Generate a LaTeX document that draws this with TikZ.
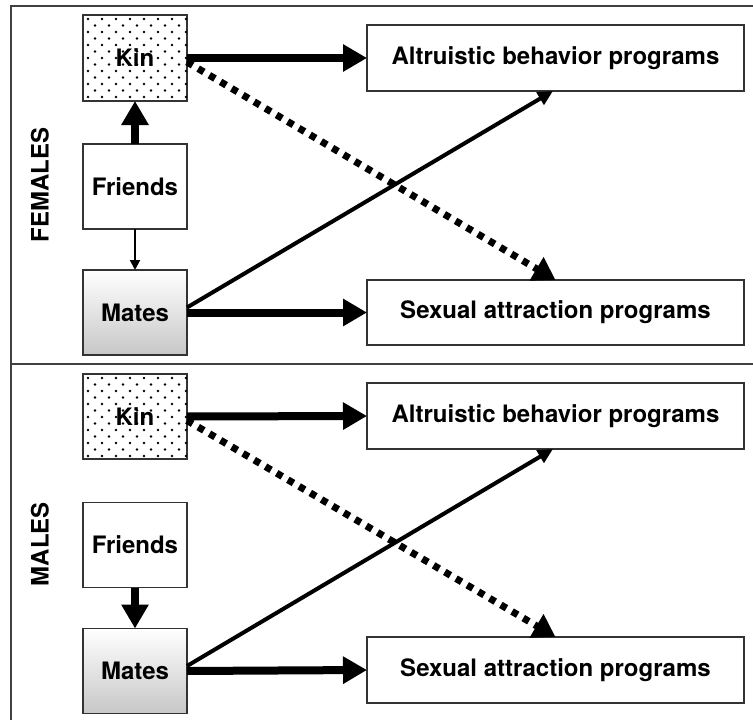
\documentclass[tikz,border=0pt]{standalone}
\usepackage{fontspec}
\setmainfont{TeX Gyre Heros}
\usetikzlibrary{arrows.meta}
\tikzset{
  lbl/.style={font=\fontsize{24}{27}\selectfont\bfseries},
  box/.style={draw=black!80, line width=1.4pt, fill=white, rectangle, inner sep=0pt, outer sep=0pt, lbl},
  smallbox/.style={box, minimum width=104pt, minimum height=85pt},
  progbox/.style={box, minimum width=377pt, minimum height=66pt},
  matebox/.style={smallbox, top color=white, bottom color=black!22},
  thickarrow/.style={line width=8pt, -{Triangle[length=24pt,width=26pt]}},
  diagarrow/.style={line width=4pt, -{Triangle[length=15pt,width=14pt]}},
  dotarrow/.style={line width=7pt, dash pattern=on 6.5pt off 6.5pt, -{Triangle[length=22pt,width=26pt]}},
  thinarrow/.style={line width=2pt, -{Triangle[length=10pt,width=10pt]}},
  side/.style={rotate=90, lbl},
  frame/.style={draw=black!75, line width=1.6pt}
}
\newcommand{\kindots}[2]{%
  \begin{scope}
    \clip (#1,#2) rectangle ++(104,86);
    \foreach \m in {0,...,6}{\foreach \j in {0,...,7}{\fill (#1+5+14*\j,#2+4+13*\m) circle (1.4pt);}}
    \foreach \m in {0,...,5}{\foreach \j in {0,...,7}{\fill (#1+12+14*\j,#2+10.5+13*\m) circle (1.4pt);}}
  \end{scope}}
\begin{document}
\begin{tikzpicture}[x=1pt,y=-1pt]
\useasboundingbox (0,0) rectangle (753,720);
\clip (0,0) rectangle (753,720);
\fill[white] (0,0) rectangle (753,720);
% frame
\draw[frame] (11,730) -- (11,6) -- (760,6);
\draw[frame] (11,364) -- (760,364);
% ---------- FEMALES ----------
\node[side] (lab1) at (40,185) {FEMALES};
\node[smallbox, minimum height=86pt] (kin1) at (135,58) {};
\kindots{83}{15}
\node[lbl] (kint1) at (kin1.center) {Kin};
\node[smallbox] (fr1) at (135,186.5) {Friends};
\node[matebox] (mt1) at (135,312.5) {Mates};
\node[progbox] (alt1) at (555.5,58) {Altruistic behavior programs};
\node[progbox, minimum height=65pt] (sex1) at (555.5,312.5) {Sexual attraction programs};
\draw[thickarrow] (fr1.north) -- (kin1.south);
\draw[thinarrow] (fr1.south) -- (mt1.north);
\draw[thickarrow] (kin1.east) -- (alt1.west);
\draw[thickarrow] (mt1.east) -- (sex1.west);
\draw[diagarrow] ([yshift=5pt]mt1.east) -- ([xshift=-2.5pt]alt1.south);
\draw[dotarrow] ([yshift=-4pt]kin1.east) -- (sex1.north);
% ---------- MALES ----------
\node[side] (lab2) at (40,544) {MALES};
\node[smallbox] (kin2) at (135,416.5) {};
\kindots{83}{374}
\node[lbl] (kint2) at (kin2.center) {Kin};
\node[smallbox] (fr2) at (135,545) {Friends};
\node[matebox] (mt2) at (135,671) {Mates};
\node[progbox] (alt2) at (555.5,416) {Altruistic behavior programs};
\node[progbox] (sex2) at (555.5,670) {Sexual attraction programs};
\draw[thickarrow] (fr2.south) -- (mt2.north);
\draw[thickarrow] (kin2.east) -- (alt2.west);
\draw[thickarrow] (mt2.east) -- (sex2.west);
\draw[diagarrow] ([yshift=5pt]mt2.east) -- ([xshift=-2.5pt]alt2.south);
\draw[dotarrow] ([yshift=-4pt]kin2.east) -- (sex2.north);
\end{tikzpicture}
\end{document}
